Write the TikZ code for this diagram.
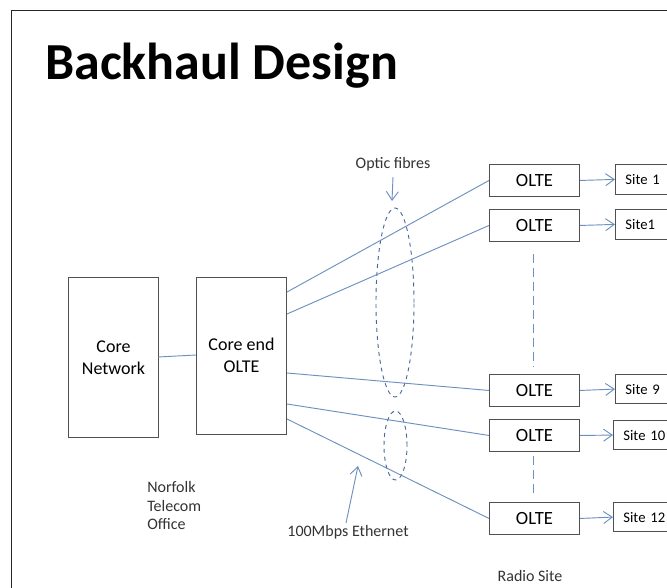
\documentclass[tikz,border=0pt]{standalone}
\usepackage{fontspec}
\setmainfont{Carlito}
\usetikzlibrary{arrows.meta,shapes.geometric}
\definecolor{linkblue}{HTML}{6C90BF}
\definecolor{boxgrey}{HTML}{505050}
\definecolor{ringblue}{HTML}{47689A}
\tikzset{
  x=0.75pt,y=-0.75pt,
  box/.style={draw=boxgrey,line width=0.7pt,inner sep=0pt,align=center,font=\fontsize{13.5pt}{16.5pt}\selectfont},
  olte/.style={box,minimum width=67.5pt,minimum height=24pt,anchor=north west,font=\fontsize{14pt}{15pt}\selectfont},
  sitebox/.style={draw=boxgrey,line width=0.6pt,inner ysep=0pt,inner xsep=7.5pt,anchor=north west,font=\fontsize{11pt}{13pt}\selectfont,text width=45pt,align=left},
  link/.style={draw=linkblue,line width=0.7pt},
  barb/.style={link,-{Straight Barb[length=6.5pt,width=9pt,line width=0.7pt]}},
  ring/.style={draw=ringblue,dashed,line width=0.7pt,ellipse,inner sep=0pt},
  guide/.style={draw=linkblue,line width=0.7pt,dash pattern=on 7pt off 3.5pt},
  lbl/.style={font=\fontsize{12pt}{14pt}\selectfont,text=black!80,inner sep=0pt},
}
\begin{document}
\begin{tikzpicture}
\useasboundingbox (0,0) rectangle (667,588);
\clip (0,0) rectangle (667,588);
\draw[line width=0.7pt,draw=black!85] (11,600) -- (11,10.5) -- (680,10.5);
\node[anchor=base west,inner sep=0pt,font=\bfseries\fontsize{39pt}{44pt}\selectfont] (title) at (45,79.5) {Backhaul Design};

\node[box,minimum width=67.5pt,minimum height=120.5pt,anchor=north west] (core) at (68,276.5) {Core\\Network};
\node[box,minimum width=67.5pt,minimum height=118pt,anchor=north west] (coreend) at (196,276.5) {Core end\\OLTE};

\node[olte] (o1) at (489,164) {OLTE};
\node[olte] (o2) at (489,209) {OLTE};
\node[olte] (o9) at (489,374) {OLTE};
\node[olte] (o10) at (489,419) {OLTE};
\node[olte] (o12) at (489,502) {OLTE};

\node[sitebox,minimum height=22.5pt] (s1) at (615,164) {Site 1};
\node[sitebox,minimum height=22.5pt] (s2) at (615,209) {Site1};
\node[sitebox,minimum height=22pt] (s9) at (615,374) {Site 9};
\node[sitebox,minimum height=22pt] (s10) at (613,420) {Site 10};
\node[sitebox,minimum height=22pt] (s12) at (613,502) {Site 12};

\node[ring,minimum width=28.5pt,minimum height=141.75pt] (bigring) at (395,302.5) {};
\node[ring,minimum width=17.25pt,minimum height=51.75pt] (smallring) at (395.5,445.5) {};

\coordinate (c0) at (158,357);
\coordinate (c00) at (196,355);
\coordinate (c1) at (287,292);
\coordinate (c2) at (287,314);
\coordinate (c3) at (287,373);
\coordinate (c4) at (287,404);
\coordinate (c5) at (287,419);
\draw[link] (c0) -- (c00);
\draw[link] (c1) -- (o1.west);
\draw[link] (c2) -- (o2.west);
\draw[link] (c3) -- (o9.west);
\draw[link] (c4) -- (o10.west);
\draw[link] (c5) -- (o12.west);

\draw[barb] (o1.east) -- (s1.west);
\draw[barb] (o2.east) -- (s2.west);
\draw[barb] (o9.east) -- (s9.west);
\draw[barb] (o10.east) -- (s10.west);
\draw[barb] (o12.east) -- (s12.west);

\coordinate (g1) at (533,254);
\coordinate (g2) at (533,367);
\coordinate (g3) at (533,456);
\coordinate (g4) at (533,494);
\draw[guide] (g1) -- (g2);
\draw[guide] (g3) -- (g4);

\node[lbl] (optic) at (393,164) {Optic fibres};
\node[lbl] (eth) at (348,532) {100Mbps Ethernet};
\node[lbl] (radio) at (530,576) {Radio Site};
\node[lbl,anchor=north west,align=left,text width=55pt] (norfolk) at (147,481) {Norfolk\\Telecom\\Office};

\coordinate (a1) at (393,177);
\coordinate (a2) at (392,201);
\coordinate (b1) at (346,523);
\coordinate (b2) at (358,466);
\draw[barb] (a1) -- (a2);
\draw[barb] (b1) -- (b2);
\end{tikzpicture}
\end{document}
